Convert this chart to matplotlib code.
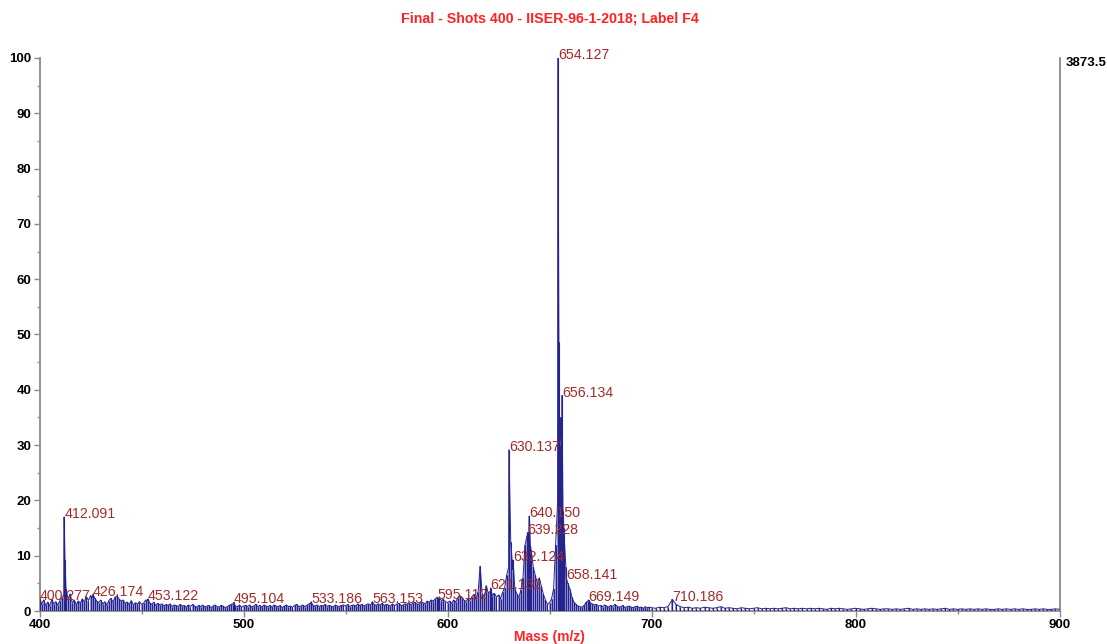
import numpy as np
import matplotlib
matplotlib.use("Agg")
from matplotlib import pyplot as plt
from matplotlib.ticker import MultipleLocator

plt.rcParams['font.family'] = ['Liberation Sans', 'DejaVu Sans']

title = "Final - Shots 400 - IISER-96-1-2018; Label F4"
base_peak = "3873.5"
x_label = "Mass (m/z)"

# labelled peaks: m/z and % intensity
label_mz = [400.277, 412.091, 426.174, 453.122, 495.104, 533.186, 563.153,
            595.112, 621.132, 630.137, 632.124, 639.228, 640.150, 654.127,
            656.134, 658.141, 669.149, 710.186]
label_int = [2.2, 17.0, 3.0, 2.2, 1.6, 1.7, 1.7,
             2.4, 4.2, 29.2, 9.2, 14.2, 17.2, 100.0,
             39.0, 6.0, 2.0, 2.1]

# unlabelled peaks inside the clusters
extra_mz = [412.5, 639.6, 640.6, 654.6, 655.5, 656.6]
extra_int = [9.2, 13.5, 12.0, 48.7, 35.0, 18.0]

# baseline, 1 Da step from 400 to 699
low_start = 400
low_int = [
    1.8, 1.2, 2.0, 1.0, 1.6, 0.9, 2.1, 1.3, 1.7, 1.1,
    1.9, 2.4, 3.0, 4.0, 2.2, 3.1, 1.5, 2.0, 1.2, 1.8,
    1.4, 2.2, 1.6, 2.6, 1.9, 2.8, 2.5, 2.4, 1.8, 1.5,
    2.0, 1.3, 1.7, 1.1, 1.9, 2.3, 1.6, 2.5, 2.7, 2.2,
    1.8, 2.0, 1.4, 1.6, 1.2, 1.9, 1.1, 1.5, 1.3, 1.7,
    1.2, 1.4, 2.0, 1.9, 1.5, 1.2, 1.6, 1.0, 1.4, 1.1,
    1.3, 0.9, 1.2, 1.0, 1.3, 0.8, 1.1, 1.0, 0.8, 1.2,
    0.9, 1.0, 0.7, 1.1, 0.8, 1.2, 0.9, 0.7, 1.0, 0.8,
    1.1, 0.7, 0.9, 1.0, 0.6, 0.9, 1.1, 0.8, 0.7, 1.0,
    0.9, 0.6, 0.8, 1.0, 1.2, 1.3, 0.9, 0.8, 1.1, 0.7,
    0.9, 1.0, 0.8, 1.1, 0.7, 0.9, 1.2, 0.8, 1.0, 0.7,
    1.1, 0.9, 0.8, 1.0, 0.7, 1.1, 0.9, 0.8, 1.0, 0.6,
    0.9, 1.1, 0.8, 0.9, 0.7, 1.0, 1.2, 0.8, 0.9, 1.1,
    0.8, 1.0, 1.3, 1.4, 1.0, 0.9, 1.1, 0.8, 1.0, 0.9,
    1.2, 0.8, 1.0, 0.9, 0.7, 1.1, 0.9, 0.8, 1.0, 1.1,
    0.9, 1.2, 0.8, 1.0, 1.1, 0.9, 1.3, 1.0, 1.2, 0.9,
    1.1, 1.3, 1.1, 1.4, 1.2, 1.0, 1.3, 1.1, 1.4, 1.0,
    1.2, 1.1, 0.9, 1.3, 1.0, 1.2, 1.4, 1.1, 1.0, 1.3,
    1.2, 1.5, 1.1, 1.4, 1.6, 1.3, 1.2, 1.7, 1.5, 1.3,
    1.8, 1.6, 2.0, 1.8, 2.2, 2.5, 2.3, 1.9, 2.1, 1.7,
    1.5, 1.8, 1.4, 2.0, 1.6, 2.4, 2.8, 2.5, 2.0, 1.7,
    2.2, 1.9, 2.6, 3.0, 2.1, 3.5, 8.1, 3.0, 2.4, 4.6,
    3.2, 3.6, 2.8, 3.2, 2.5, 2.9, 2.2, 3.4, 4.2, 6.5,
    8.0, 12.5, 7.5, 4.0, 3.1, 2.5, 3.8, 6.0, 12.0, 13.6,
    14.0, 11.0, 8.0, 6.5, 5.0, 6.0, 4.5, 3.0, 2.0, 1.2,
    1.5, 2.2, 4.0, 12.0, 20.0, 30.0, 22.0, 15.0, 8.0, 5.0,
    4.0, 2.5, 1.6, 1.2, 0.9, 0.8, 0.7, 1.0, 1.6, 1.9,
    1.5, 1.3, 1.1, 1.2, 0.9, 1.0, 0.8, 1.1, 0.9, 0.7,
    1.0, 0.8, 1.2, 0.9, 0.7, 0.8, 1.0, 0.6, 0.8, 0.9,
    0.7, 0.6, 0.8, 0.9, 0.6, 0.7, 0.5, 0.8, 0.6, 0.7,
]

# baseline, 2 Da step from 700 to 900
high_start = 700
high_int = [
    0.6, 0.5, 0.7, 0.6, 0.8, 1.9, 1.2, 0.8, 0.6, 0.7,
    0.5, 0.6, 0.5, 0.7, 0.6, 0.5, 0.6, 0.8, 0.5, 0.6,
    0.5, 0.4, 0.6, 0.5, 0.4, 0.5, 0.6, 0.4, 0.5, 0.4,
    0.5, 0.4, 0.5, 0.6, 0.4, 0.5, 0.4, 0.5, 0.4, 0.5,
    0.4, 0.5, 0.4, 0.3, 0.5, 0.4, 0.5, 0.4, 0.3, 0.4,
    0.5, 0.4, 0.3, 0.4, 0.5, 0.4, 0.3, 0.4, 0.4, 0.3,
    0.4, 0.3, 0.4, 0.5, 0.3, 0.4, 0.3, 0.4, 0.3, 0.4,
    0.3, 0.4, 0.5, 0.3, 0.4, 0.3, 0.4, 0.3, 0.4, 0.3,
    0.4, 0.3, 0.4, 0.3, 0.3, 0.4, 0.3, 0.4, 0.3, 0.4,
    0.3, 0.4, 0.3, 0.3, 0.4, 0.3, 0.4, 0.3, 0.3, 0.4,
    0.3,
]

mz = np.concatenate([
    np.arange(low_start, low_start + len(low_int)),
    np.arange(high_start, high_start + 2 * len(high_int), 2),
    label_mz, extra_mz]).astype(float)
inten = np.concatenate([low_int, high_int, label_int, extra_int]).astype(float)
order = np.argsort(mz)
mz, inten = mz[order], inten[order]

fig = plt.figure(figsize=(11.07, 6.44), dpi=100)
ax = fig.add_axes([0.0357, 0.0512, 0.9214, 0.8588])

line_col = '#24248c'
ax.vlines(mz, 0, inten, color='#9a9ad8', lw=1.4, zorder=2)
ax.vlines(mz, 0, inten, color=line_col, lw=0.8, zorder=3)
ax.plot(mz, inten, color=line_col, lw=0.7, zorder=3)

for m, h in zip(label_mz, label_int):
    ax.annotate(f"{m:.3f}", (m, h), xytext=(0, 2), textcoords='offset points',
                ha='left', va='center', color='#a22a2a', fontsize=10.2, zorder=4)

ax.set_xlim(400, 900)
ax.set_ylim(0, 100)
ax.xaxis.set_major_locator(MultipleLocator(100))
ax.xaxis.set_minor_locator(MultipleLocator(50))
ax.yaxis.set_major_locator(MultipleLocator(10))
ax.yaxis.set_minor_locator(MultipleLocator(5))

spine_col = '#8a8a8a'
ax.spines['top'].set_visible(False)
for s in ['left', 'bottom', 'right']:
    ax.spines[s].set_color(spine_col)
    ax.spines[s].set_linewidth(1.3)
ax.tick_params(which='both', direction='out', color=spine_col, width=1,
               labelsize=9.5, pad=2)
ax.tick_params(which='major', length=4)
ax.tick_params(which='minor', length=2.5)
for lab in ax.get_xticklabels() + ax.get_yticklabels():
    lab.set_fontweight('bold')

ax.text(1.006, 0.99, base_peak, transform=ax.transAxes, ha='left', va='center',
        fontsize=9.5, fontweight='bold')

fig.text(0.497, 0.972, title, ha='center', va='center', color='#ff2222',
         fontsize=10.2, fontweight='bold')
fig.text(0.4965, 0.011, x_label, ha='center', va='center', color='#ff2222',
         fontsize=10, fontweight='bold')

fig.savefig('out.png', dpi=100)
